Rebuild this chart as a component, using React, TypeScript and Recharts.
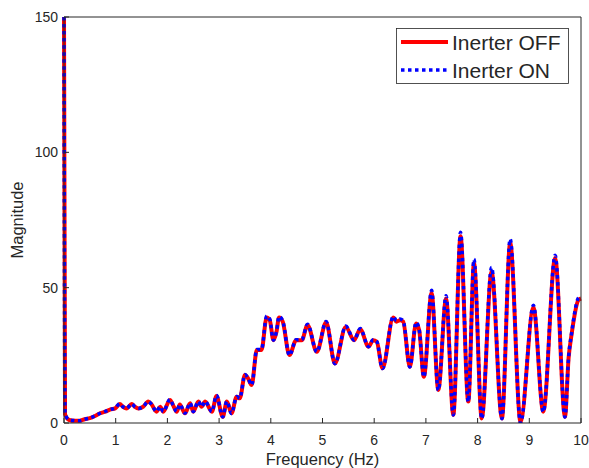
import { Legend, Line, LineChart, XAxis, YAxis } from "recharts";

const FREQ = [
  0, 0.02, 0.1, 0.2, 0.3, 0.4, 0.5, 0.6, 0.7, 0.8,
  0.9, 0.99, 1.08, 1.14, 1.21, 1.31, 1.37, 1.44, 1.53, 1.63,
  1.69, 1.79, 1.86, 1.92, 2.05, 2.11, 2.18, 2.24, 2.34, 2.44,
  2.5, 2.6, 2.66, 2.73, 2.86, 2.95, 3.07, 3.15, 3.24, 3.34,
  3.4, 3.5, 3.56, 3.63, 3.73, 3.82, 3.92, 3.98, 4.05, 4.11,
  4.16, 4.23, 4.36, 4.49, 4.6, 4.71, 4.89, 5.07, 5.24, 5.45,
  5.61, 5.73, 5.89, 5.98, 6.05, 6.16, 6.37, 6.43, 6.5, 6.56,
  6.69, 6.81, 6.87, 6.96, 7.11, 7.24, 7.39, 7.53, 7.67, 7.82,
  7.93, 8.08, 8.27, 8.47, 8.63, 8.83, 9.08, 9.27, 9.5, 9.69,
  9.76, 9.82, 9.95, 10,
];

const INERTER_OFF = [
  150, 3.2, 1.1, 0.8, 0.8, 1.4, 1.8, 2.6, 3.6, 4.2,
  5.0, 5.4, 7.0, 6.0, 5.4, 7.0, 6.0, 5.4, 6.0, 7.9,
  7.0, 4.2, 6.0, 4.2, 8.5, 6.6, 4.2, 6.8, 3.6, 7.3,
  4.2, 7.9, 6.0, 7.9, 4.2, 10.0, 2.3, 7.9, 3.6, 9.7,
  9.1, 17.7, 16.5, 14.0, 27.0, 27.0, 39.0, 38.0, 30.6, 33.7,
  39.0, 37.5, 25.1, 30.6, 30.6, 36.2, 26.3, 37.2, 22.0, 35.5,
  30.6, 34.6, 28.2, 30.6, 30.0, 20.2, 39.0, 37.4, 38.0, 37.5,
  20.8, 36.8, 34.3, 17.1, 48.0, 12.2, 46.0, 3.0, 69.0, 7.9,
  59.0, 1.7, 56.0, 1.7, 66.5, 0.5, 42.7, 4.2, 61.0, 2.3,
  24.0, 33.0, 45.4, 46.0,
];

const INERTER_ON = [
  150, 3.4, 1.2, 0.9, 0.8, 1.4, 1.8, 2.6, 3.6, 4.3,
  5.0, 5.5, 7.2, 6.0, 5.4, 7.1, 6.0, 5.4, 6.0, 8.0,
  7.0, 4.2, 6.1, 4.2, 8.7, 6.6, 4.2, 6.9, 3.6, 7.4,
  4.2, 8.0, 6.0, 8.0, 4.2, 10.2, 2.2, 8.0, 3.5, 9.8,
  9.2, 17.9, 16.6, 14.0, 27.2, 27.2, 39.5, 38.4, 30.6, 33.9,
  39.4, 37.8, 25.0, 30.8, 30.8, 36.5, 26.3, 37.5, 21.9, 35.8,
  30.6, 34.9, 28.2, 30.8, 30.1, 20.1, 39.4, 37.8, 38.4, 37.8,
  20.7, 37.2, 34.5, 17.0, 49.0, 12.1, 47.0, 3.0, 70.5, 7.8,
  60.5, 1.6, 57.5, 1.6, 68.0, 0.0, 43.5, 4.1, 62.0, 2.2,
  24.2, 33.4, 46.2, 46.8,
];

const X_TICKS = [0, 1, 2, 3, 4, 5, 6, 7, 8, 9, 10];
const Y_TICKS = [0, 50, 100, 150];

const data = FREQ.map((f, i) => ({ f, off: INERTER_OFF[i], on: INERTER_ON[i] }));

const AXIS = "#262626";
const FONT = "'Liberation Sans', Arial, sans-serif";
const RED = "#ff0000";
const BLUE = "#0000ff";

function LegendBox() {
  return (
    <svg width={173} height={56} style={{ display: "block" }}>
      <rect x={0.5} y={0.5} width={172} height={55} fill="#fff" stroke={AXIS} strokeWidth={0.8} />
      <line x1={5} x2={52} y1={14} y2={14} stroke={RED} strokeWidth={4} />
      <text x={56} y={21.5} fontSize={21} fill={AXIS} fontFamily={FONT}>Inerter OFF</text>
      <line x1={5} x2={52} y1={42} y2={42} stroke={BLUE} strokeWidth={3.5} strokeDasharray="3.5 3.5" />
      <text x={56} y={49.5} fontSize={21} fill={AXIS} fontFamily={FONT}>Inerter ON</text>
    </svg>
  );
}

export default function App() {
  return (
    <div style={{ position: "absolute", left: 0, top: 0, background: "#fff" }}>
      <LineChart width={589} height={468} data={data} margin={{ top: 0, right: 0, bottom: 20, left: 0 }}>
        <XAxis
          xAxisId="b"
          dataKey="f"
          type="number"
          domain={[0, 10]}
          ticks={X_TICKS}
          height={25}
          stroke={AXIS}
          tickSize={-5}
          tickMargin={17}
          tick={{ fill: AXIS, fontSize: 14, fontFamily: FONT }}
          label={{ value: "Frequency (Hz)", position: "bottom", offset: 5, fill: AXIS, fontSize: 16.5, fontFamily: FONT }}
        />
        <XAxis
          xAxisId="t"
          dataKey="f"
          type="number"
          orientation="top"
          domain={[0, 10]}
          ticks={X_TICKS}
          height={17}
          stroke={AXIS}
          tickSize={-5}
          tick={false}
        />
        <YAxis
          yAxisId="l"
          type="number"
          domain={[0, 150]}
          ticks={Y_TICKS}
          width={64}
          stroke={AXIS}
          tickSize={-5}
          tickMargin={11}
          allowDataOverflow
          tick={{ fill: AXIS, fontSize: 14, fontFamily: FONT }}
          label={{ value: "Magnitude", angle: -90, position: "insideLeft", offset: 17, fill: AXIS, fontSize: 16.5, fontFamily: FONT, style: { textAnchor: "middle" } }}
        />
        <YAxis
          yAxisId="r"
          type="number"
          orientation="right"
          domain={[0, 150]}
          ticks={Y_TICKS}
          width={8}
          stroke={AXIS}
          tickSize={-5}
          tick={false}
          allowDataOverflow
        />
        <Legend
          layout="vertical"
          align="center"
          verticalAlign="middle"
          wrapperStyle={{ left: 396, top: 28, width: 173, height: 56 }}
          content={() => <LegendBox />}
        />
        <Line
          xAxisId="b"
          yAxisId="l"
          type="monotone"
          dataKey="off"
          name="Inerter OFF"
          stroke={RED}
          strokeWidth={4}
          dot={false}
          isAnimationActive={false}
        />
        <Line
          xAxisId="b"
          yAxisId="l"
          type="monotone"
          dataKey="on"
          name="Inerter ON"
          stroke={BLUE}
          strokeWidth={3.5}
          strokeDasharray="3.5 3.5"
          dot={false}
          isAnimationActive={false}
        />
      </LineChart>
    </div>
  );
}
